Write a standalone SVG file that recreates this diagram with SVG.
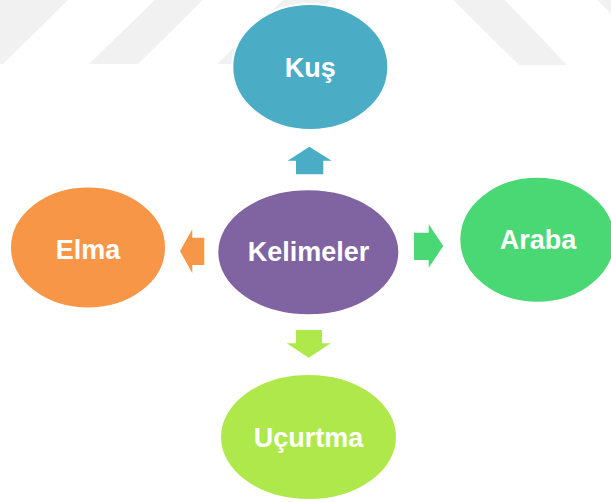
<svg xmlns="http://www.w3.org/2000/svg" width="611" height="502" viewBox="0 0 611 502">
  <style>
    .band { fill: #f1f1f1; }
    .node ellipse { stroke: #ffffff; stroke-width: 2; }
    .label { font-family: "Liberation Sans", Arial, sans-serif; font-weight: bold; font-size: 27px; fill: #ffffff; text-anchor: middle; }
  </style>

  <rect width="611" height="502" fill="#ffffff"/>

  <!-- faint diagonal bands along the top edge -->
  <g id="bands">
    <polygon class="band" points="0,0 68,0 3,64 0,64"/>
    <polygon class="band" points="155,0 203,0 138,64 89,64"/>
    <polygon class="band" points="283,0 331,0 265,64 217,64"/>
    <polygon class="band" points="453,0 505,0 567,65 519,65"/>
    <polygon class="band" points="597,0 611,0 611,14"/>
  </g>

  <!-- block arrows from the centre to each word -->
  <g id="connectors">
    <polygon fill="#4BACC6" points="309.3,146.7 331.7,160.7 323.3,160.7 323.3,174.3 296,174.3 296,160.7 287.7,160.7"/>
    <polygon fill="#F79646" points="180,251 192.3,229.3 192.3,237.7 204.3,237.7 204.3,265 192.3,265 192.3,273.3"/>
    <polygon fill="#4AD874" points="414,232.7 428.7,232.7 428.7,224.3 443.3,246 428.7,267.7 428.7,260 414,260"/>
    <polygon fill="#AEE84A" points="296,330 322,330 322,343.3 330.7,343.3 308.7,357.7 286.7,343.3 296,343.3"/>
  </g>

  <g id="kus" class="node">
    <ellipse cx="310.3" cy="67" rx="78" ry="63" fill="#4BACC6"/>
    <text class="label" x="310.3" y="77">Kuş</text>
  </g>

  <g id="kelimeler" class="node">
    <ellipse cx="308.3" cy="252.3" rx="91" ry="63" fill="#8064A2"/>
    <text class="label" x="308.5" y="261">Kelimeler</text>
  </g>

  <g id="elma" class="node">
    <ellipse cx="88" cy="247.5" rx="78" ry="61" fill="#F79646"/>
    <text class="label" x="88" y="259">Elma</text>
  </g>

  <g id="araba" class="node">
    <ellipse cx="537.3" cy="239.7" rx="78" ry="63" fill="#4AD874"/>
    <text class="label" x="538" y="249">Araba</text>
  </g>

  <g id="ucurtma" class="node">
    <ellipse cx="308.5" cy="437" rx="88.5" ry="63" fill="#AEE84A"/>
    <text class="label" x="308.5" y="447">Uçurtma</text>
  </g>
</svg>
